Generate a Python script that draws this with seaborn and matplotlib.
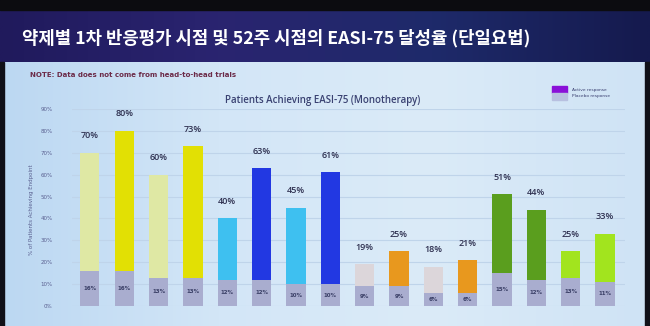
import numpy as np
import pandas as pd
import matplotlib
matplotlib.use("Agg")
import matplotlib.pyplot as plt
import seaborn as sns
from matplotlib.patches import Rectangle
from matplotlib.colors import LinearSegmentedColormap

# ---- data ----
arms = [f"arm{i+1}" for i in range(16)]
active = [70, 80, 60, 73, 40, 63, 45, 61, 19, 25, 18, 21, 51, 44, 25, 33]
placebo = [16, 16, 13, 13, 12, 12, 10, 10, 9, 9, 6, 6, 15, 12, 13, 11]
bar_colors = ["#dfe8a4", "#e2e004", "#dfe8a4", "#e2e004",
              "#3ec0f0", "#2238e2", "#3ec0f0", "#2238e2",
              "#dcd6da", "#e8981e", "#dcd6da", "#e8981e",
              "#5a9e1e", "#5a9e1e", "#a2e41e", "#a2e41e"]
placebo_color = "#a9adcf"
yticks = [0, 10, 20, 30, 40, 50, 60, 70, 80, 90]

title_kr = "약제별 1차 반응평가 시점 및 52주 시점의 EASI-75 달성율 (단일요법)"
note = "NOTE: Data does not come from head-to-head trials"
chart_title = "Patients Achieving EASI-75 (Monotherapy)"
ylabel = "% of Patients Achieving Endpoint"
legend_labels = ["Active response", "Placebo response"]

df = pd.DataFrame({"arm": arms, "active": active, "placebo": placebo})

sns.set_theme(style="white")
plt.rcParams['font.family'] = ['Noto Sans CJK KR', 'DejaVu Sans']

W, H = 650, 326
fig = plt.figure(figsize=(6.5, 3.26), dpi=100, facecolor="#0a0a12")

# background axes (slide + header)
bg = fig.add_axes([0, 0, 1, 1])
bg.set_xlim(0, W)
bg.set_ylim(H, 0)
bg.axis("off")
hx = np.linspace(0, 1, 300)
hgrad = np.vstack([hx, hx])
hcmap = LinearSegmentedColormap.from_list("h", ["#201a5c", "#2a2470", "#1e2a6a", "#151a4e"])
bg.imshow(hgrad, extent=[0, W, 62, 10], cmap=hcmap, aspect="auto", zorder=0)
bg.add_patch(Rectangle((0, 0), W, 10, color="#0c0c10", zorder=1))
sx = np.linspace(0, 1, 300)
sgrad = np.vstack([sx, sx])
scmap = LinearSegmentedColormap.from_list("s", ["#bcd8f2", "#d3e6f7", "#dbebf8", "#cfe3f5"])
bg.imshow(sgrad, extent=[4, 645, 326, 62], cmap=scmap, aspect="auto", zorder=0)
bg.add_patch(Rectangle((0, 62), 4, 264, color="#101018", zorder=1))
bg.add_patch(Rectangle((645, 62), 5, 264, color="#101018", zorder=1))

bg.text(22, 38, title_kr, color="white", fontsize=12.8, fontweight="bold",
        va="center", ha="left", zorder=3)
bg.text(30, 75, note, color="#6b2a48", fontsize=5, fontweight="bold",
        va="center", ha="left", zorder=3, family="DejaVu Sans")
bg.text(323, 100, chart_title, color="#3a4272", fontsize=7, fontweight="semibold",
        va="center", ha="center", zorder=3, family="Open Sans")
bg.text(31, 210, ylabel, color="#5a6090", fontsize=4, rotation=90,
        va="center", ha="center", zorder=3, family="DejaVu Sans")
# legend
bg.add_patch(Rectangle((552, 86), 15, 7, color="#8a10d8", zorder=3))
bg.add_patch(Rectangle((552, 93), 15, 7, color="#b8c0e0", zorder=3))
bg.text(572, 89.5, legend_labels[0], fontsize=3.2, color="#3a3f70", va="center", zorder=3, family="DejaVu Sans")
bg.text(572, 96.5, legend_labels[1], fontsize=3.2, color="#3a3f70", va="center", zorder=3, family="DejaVu Sans")

# chart axes
ax = fig.add_axes([72 / W, 1 - 306 / H, (625 - 72) / W, (306 - 109) / H])
ax.set_facecolor("none")
sns.barplot(data=df, x="arm", y="active", hue="arm", palette=bar_colors,
            legend=False, width=0.56, ax=ax, saturation=1, linewidth=0, zorder=2)
sns.barplot(data=df, x="arm", y="placebo", color=placebo_color,
            width=0.56, ax=ax, saturation=1, linewidth=0, zorder=3)
ax.set_xlim(-0.52, 15.58)
ax.set_ylim(0, 90)
ax.set_yticks(yticks)
ax.set_yticklabels([f"{v}%" for v in yticks], fontsize=4, color="#5a6090",
                   family="DejaVu Sans")
ax.tick_params(axis="y", length=0, pad=14)
ax.set_xticks([])
ax.set_xlabel("")
ax.set_ylabel("")
for s in ax.spines.values():
    s.set_visible(False)
ax.grid(axis="y", color="#bfd4ea", linewidth=0.8, zorder=0)
ax.set_axisbelow(True)

for i, (a, p) in enumerate(zip(active, placebo)):
    ax.annotate(f"{a}%", (i, a), xytext=(0, 9), textcoords="offset points",
                ha="center", va="bottom", fontsize=6.5, fontweight="semibold",
                color="#2e3050", family="Open Sans", zorder=5)
    ax.text(i, p / 2, f"{p}%", ha="center", va="center", fontsize=4,
            fontweight="bold", color="#3a3f66", family="DejaVu Sans", zorder=5)

fig.savefig("out.png", dpi=100, facecolor=fig.get_facecolor())
